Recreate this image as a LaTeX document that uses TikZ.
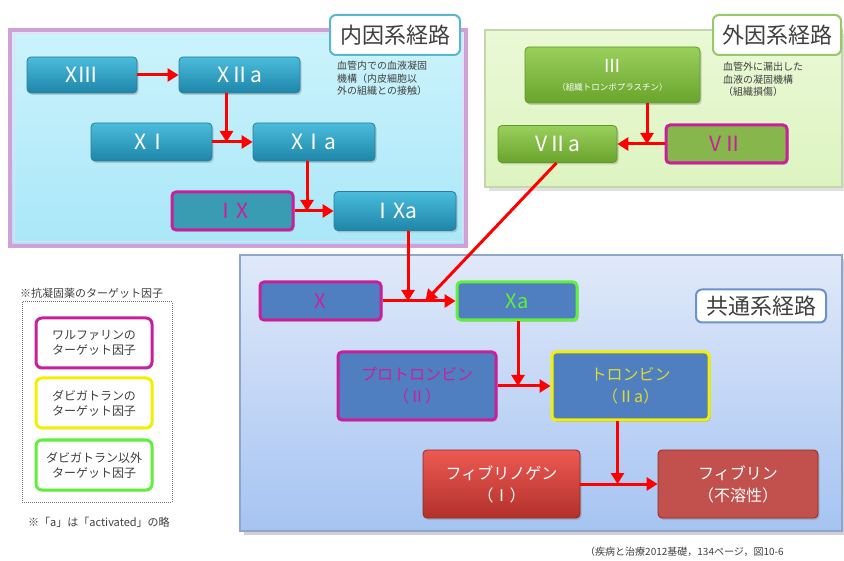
\documentclass[tikz,border=0pt]{standalone}
\usepackage{fontspec}
\setmainfont{Noto Sans CJK JP}
\usetikzlibrary{arrows.meta,shadows,calc}
\definecolor{tealT}{HTML}{4BBCDC}
\definecolor{tealB}{HTML}{1E86A8}
\definecolor{tealD}{HTML}{2A7E9A}
\definecolor{tealM}{HTML}{3A9CB2}
\definecolor{greenT}{HTML}{9ACF5C}
\definecolor{greenB}{HTML}{69A42C}
\definecolor{greenD}{HTML}{5E9A2A}
\definecolor{greenM}{HTML}{86B64C}
\definecolor{blueF}{HTML}{4F7FC0}
\definecolor{redT}{HTML}{EC5A52}
\definecolor{redB}{HTML}{B3302B}
\definecolor{redF}{HTML}{C2504C}
\definecolor{mag}{HTML}{C8209C}
\definecolor{lgreen}{HTML}{5EF03A}
\definecolor{lyellow}{HTML}{F0F000}
\definecolor{ytext}{HTML}{DCDC30}
\definecolor{txtgray}{HTML}{404040}
\definecolor{inT}{HTML}{CCF3FC}
\definecolor{inB}{HTML}{A9E7F8}
\definecolor{inBorder}{HTML}{D2A0D8}
\definecolor{exT}{HTML}{EAF9D6}
\definecolor{exB}{HTML}{DDF4C0}
\definecolor{exBorder}{HTML}{C4D6AE}
\definecolor{coT}{HTML}{E0E9F9}
\definecolor{coB}{HTML}{A6C4F2}
\definecolor{coBorder}{HTML}{8EA6CC}
\definecolor{tinB}{HTML}{5AB6CA}
\definecolor{texB}{HTML}{9CC66A}
\definecolor{tcoB}{HTML}{6A93CC}
\begin{document}
\begin{tikzpicture}[x=1pt,y=-1pt,
  base/.style={rounded corners=4pt, inner sep=2pt, align=center,
    drop shadow={opacity=0.35,shadow xshift=1.5pt,shadow yshift=-2pt}},
  tealbox/.style={base, top color=tealT, bottom color=tealB, draw=tealD, line width=0.8pt,
    text=white, font=\fontsize{21}{23}\selectfont},
  tealmag/.style={base, fill=tealM, draw=mag, line width=3pt, text=mag,
    font=\fontsize{21}{23}\selectfont},
  greenbox/.style={base, top color=greenT, bottom color=greenB, draw=greenD, line width=0.8pt,
    text=white, font=\fontsize{21}{23}\selectfont},
  greenmag/.style={base, fill=greenM, draw=mag, line width=3pt, text=mag,
    font=\fontsize{21}{23}\selectfont},
  bluebox/.style={base, fill=blueF, line width=3pt, font=\fontsize{16}{22}\selectfont},
  redbox/.style={base, draw=redB!80!black, line width=0.8pt, text=white,
    font=\fontsize{16}{22}\selectfont},
  titlebox/.style={rounded corners=6pt, fill=white, line width=2pt, text=txtgray,
    font=\fontsize{22}{24}\selectfont, inner sep=2pt},
  legbox/.style={rounded corners=6pt, fill=white, line width=3pt, text=txtgray, align=center,
    minimum width=116pt, minimum height=50pt, font=\fontsize{12}{15}\selectfont,
    drop shadow={opacity=0.2,shadow xshift=1pt,shadow yshift=-1.5pt}},
  desc/.style={align=left, anchor=north west, inner sep=0pt, text=txtgray,
    font=\fontsize{10}{12.5}\selectfont},
  arr/.style={draw=red, line width=3pt, -{Triangle[length=11pt,width=13pt]}},
  ]
\useasboundingbox (0,0) rectangle (844,561);
\fill[white] (0,0) rectangle (844,561);

% ---------- panels ----------
\fill[top color=inT, bottom color=inB] (10,30) rectangle (466,246);
\draw[draw=inBorder, line width=3.5pt] (10,30) rectangle (466,246);
\draw[draw=inBorder!40!white, line width=1pt] (14,34) rectangle (462,242);

\fill[fill=black!12] (489,34) rectangle (844,191);
\fill[top color=exT, bottom color=exB, draw=exBorder, line width=1.5pt] (485,30) rectangle (842,187);

\fill[fill=black!18] (244,259) rectangle (846,535);
\fill[top color=coT, bottom color=coB, draw=coBorder, line width=1.5pt] (240,255) rectangle (842,531);

% ---------- titles ----------
\node[titlebox, draw=tinB, minimum width=130pt, minimum height=40pt] (tin) at (395,35) {内因系経路};
\node[titlebox, draw=texB, minimum width=128pt, minimum height=40pt] (tex) at (777,35) {外因系経路};
\node[titlebox, draw=tcoB, minimum width=130pt, minimum height=33pt] (tco) at (761,306) {共通系経路};

\node[desc] (din) at (337,61) {血管内での血液凝固\\機構（内皮細胞以\\外の組織との接触）};
\node[desc] (dex) at (723,62) {血管外に漏出した\\血液の凝固機構\\（組織損傷）};

% ---------- intrinsic ----------
\node[tealbox, minimum width=110pt, minimum height=36pt] (xiii) at (82,75) {XⅢ};
\node[tealbox, minimum width=121pt, minimum height=36pt] (xiia) at (239.5,75) {XⅡa};
\node[tealbox, minimum width=121pt, minimum height=38pt] (xi) at (151.5,142) {XⅠ};
\node[tealbox, minimum width=122pt, minimum height=38pt] (xia) at (314,142) {XⅠa};
\node[tealmag, minimum width=121pt, minimum height=38pt] (ix) at (232.5,211) {ⅠX};
\node[tealbox, minimum width=122pt, minimum height=39pt] (ixa) at (395,211) {ⅠXa};

% ---------- extrinsic ----------
\node[greenbox, minimum width=175pt, minimum height=56pt, font=\fontsize{18}{19}\selectfont] (iii) at (612.5,75)
  {Ⅲ\\[-1pt]{\fontsize{8.5}{10}\selectfont （組織トロンボプラスチン）}};
\node[greenbox, minimum width=119pt, minimum height=37pt] (viia) at (557.5,144) {VⅡa};
\node[greenmag, minimum width=121pt, minimum height=38pt] (vii) at (726.5,144) {VⅡ};

% ---------- common ----------
\node[bluebox, draw=mag, text=mag, minimum width=121pt, minimum height=38pt, font=\fontsize{20}{22}\selectfont] (x) at (320.5,301) {X};
\node[bluebox, draw=lgreen, text=lgreen, minimum width=120pt, minimum height=38pt, font=\fontsize{20}{22}\selectfont] (xa) at (517,301) {Xa};
\node[bluebox, draw=mag, text=mag, minimum width=158pt, minimum height=68pt] (pro) at (417,386) {プロトロンビン\\（Ⅱ）};
\node[bluebox, draw=lyellow, text=ytext, minimum width=157pt, minimum height=68pt] (thr) at (630.5,386) {トロンビン\\（Ⅱa）};
\node[redbox, top color=redT, bottom color=redB, minimum width=157pt, minimum height=68pt] (fbg) at (501.5,484) {フィブリノゲン\\（Ⅰ）};
\node[redbox, fill=redF, minimum width=160pt, minimum height=68pt] (fbn) at (738,484) {フィブリン\\（不溶性）};

% ---------- arrows ----------
\draw[arr] (xiii.east) -- (xiia.west);
\draw[arr] (xi.east) -- (xia.west);
\coordinate (s1) at ($(xiia.south)+(-13,0)$);
\draw[arr] (s1) -- (s1 |- xi.east);
\draw[arr] (ix.east) -- (ixa.west);
\coordinate (s2) at ($(xia.south)+(-7,0)$);
\draw[arr] (s2) -- (s2 |- ix.east);

\draw[arr] (vii.west) -- (viia.east);
\coordinate (s3) at ($(iii.south)+(34.5,0)$);
\draw[arr] (s3) -- (s3 |- vii.west);

\draw[arr] (x.east) -- (xa.west);
\coordinate (s4) at ($(ixa.south)+(13,0)$);
\draw[arr] (s4) -- (s4 |- x.east);
\coordinate (s5) at ($(viia.south)+(-1,0)$);
\coordinate (e5) at ($(x.east)+(43,0)$);
\draw[arr] (s5) -- (e5);

\draw[arr] (pro.east) -- (thr.west);
\coordinate (s6) at ($(xa.south)+(1,0)$);
\draw[arr] (s6) -- (s6 |- pro.east);
\draw[arr] (fbg.east) -- (fbn.west);
\coordinate (s7) at ($(thr.south)+(-13,0)$);
\draw[arr] (s7) -- (s7 |- fbg.east);

% ---------- legend ----------
\node[anchor=west, inner sep=0pt, text=txtgray, font=\fontsize{11}{12}\selectfont] (lgt) at (20,293) {※抗凝固薬のターゲット因子};
\draw[densely dotted, draw=black!55, line width=1pt] (22,302) rectangle (172,502);
\node[legbox, draw=mag] (l1) at (94,343) {ワルファリンの\\ターゲット因子};
\node[legbox, draw=lyellow] (l2) at (94,403) {ダビガトランの\\ターゲット因子};
\node[legbox, draw=lgreen] (l3) at (94,465) {ダビガトラン以外\\ターゲット因子};
\node[anchor=west, inner sep=0pt, text=txtgray, font=\fontsize{11}{12}\selectfont] (lgn) at (28,522) {※「a」は「activated」の略};

% ---------- source ----------
\node[anchor=west, inner sep=0pt, text=txtgray, font=\fontsize{10}{12}\selectfont] (src) at (585,552) {（疾病と治療2012基礎，134ページ，図10-6};
\end{tikzpicture}
\end{document}
